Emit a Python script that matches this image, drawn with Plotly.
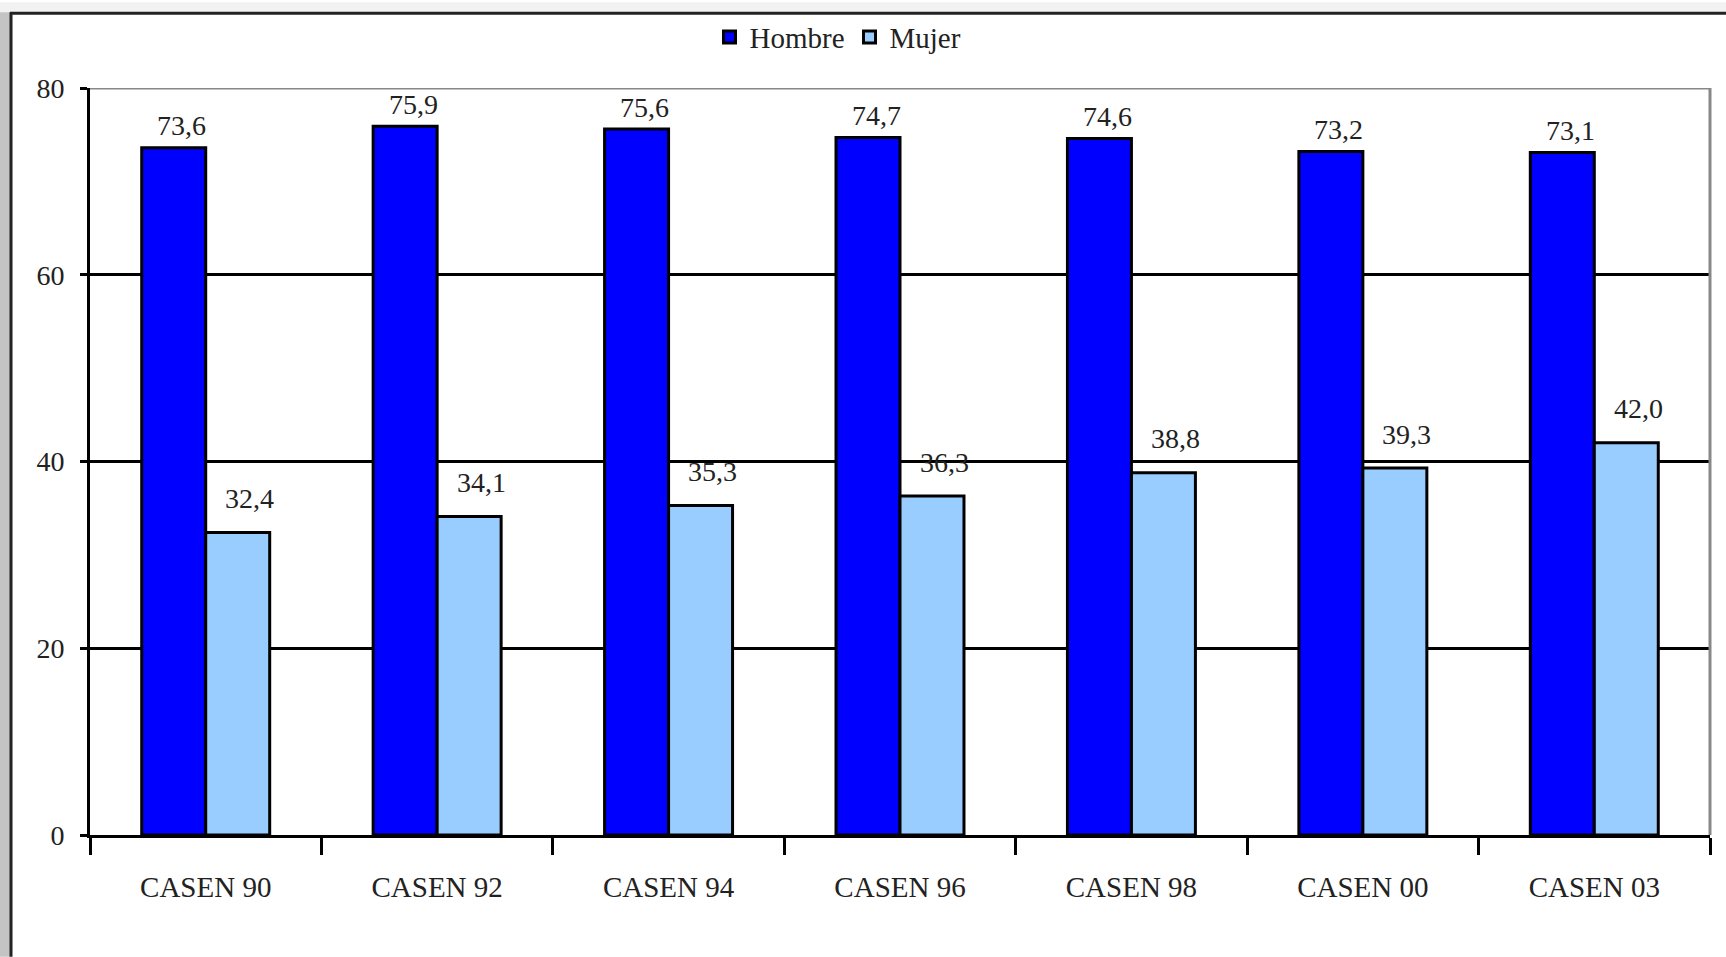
import plotly.graph_objects as go

# Encuesta CASEN: tasa por sexo (%)
categorias = ["CASEN 90", "CASEN 92", "CASEN 94", "CASEN 96", "CASEN 98", "CASEN 00", "CASEN 03"]
hombre = [73.6, 75.9, 75.6, 74.7, 74.6, 73.2, 73.1]
mujer = [32.4, 34.1, 35.3, 36.3, 38.8, 39.3, 42.0]
y_ticks = [0, 20, 40, 60, 80]

W, H = 1726, 957
L, R, T, B = 90, 16, 86, 122
FONT = "Liberation Serif"


def px_x(p):
    # screen pixel column -> paper x
    return (p - L) / (W - L - R)


def px_y(p):
    # screen pixel row -> paper y
    return (H - B - p) / (H - T - B)


def fmt(v):
    return f"{v:.1f}".replace(".", ",")


fig = go.Figure()

fig.add_trace(go.Bar(
    x=categorias, y=hombre, name="Hombre",
    marker=dict(color="#0000FF", line=dict(color="black", width=3)),
))
fig.add_trace(go.Bar(
    x=categorias, y=mujer, name="Mujer",
    marker=dict(color="#99CCFF", line=dict(color="black", width=3)),
))

# value labels (Excel style, sitting a bit to the right of each bar)
annotations = []
for cat, v in zip(categorias, hombre):
    annotations.append(dict(x=cat, y=v, text=fmt(v), showarrow=False,
                            xshift=-24, yshift=22, yanchor="middle",
                            font=dict(family=FONT, size=28, color="#222")))
for cat, v in zip(categorias, mujer):
    annotations.append(dict(x=cat, y=v, text=fmt(v), showarrow=False,
                            xshift=44, yshift=34, yanchor="middle",
                            font=dict(family=FONT, size=28, color="#222")))

shapes = [
    # window frame around the chart
    dict(type="rect", xref="paper", yref="paper", x0=px_x(0), x1=px_x(W), y0=px_y(0), y1=px_y(10),
         fillcolor="#f2f2f2", line=dict(width=0), layer="above"),
    dict(type="rect", xref="paper", yref="paper", x0=px_x(0), x1=px_x(10), y0=px_y(10), y1=px_y(H),
         fillcolor="#c4c4c4", line=dict(width=0), layer="above"),
    dict(type="line", xref="paper", yref="paper", x0=px_x(10), x1=px_x(W), y0=px_y(11), y1=px_y(11),
         line=dict(color="#222", width=3), layer="above"),
    dict(type="line", xref="paper", yref="paper", x0=px_x(11), x1=px_x(11), y0=px_y(10), y1=px_y(H),
         line=dict(color="#222", width=3), layer="above"),
    # grey plot border top / right
    dict(type="line", xref="paper", yref="y", x0=0, x1=1, y0=80, y1=80,
         line=dict(color="#888", width=3), layer="above"),
    dict(type="line", xref="paper", yref="y", x0=1, x1=1, y0=0, y1=80,
         line=dict(color="#888", width=3), layer="above"),
]

fig.update_layout(
    width=W, height=H,
    margin=dict(l=L, r=R, t=T, b=B),
    paper_bgcolor="white", plot_bgcolor="white",
    barmode="group", bargap=0.447, bargroupgap=0,
    font=dict(family=FONT, size=28, color="#222"),
    showlegend=True,
    legend=dict(orientation="h", x=px_x(838), y=px_y(35), xanchor="center", yanchor="middle",
                font=dict(family=FONT, size=29, color="#222"), bgcolor="rgba(0,0,0,0)",
                itemwidth=30, tracegroupgap=0),
    annotations=annotations,
    shapes=shapes,
)

fig.update_xaxes(
    type="category", showgrid=False,
    showline=True, linecolor="black", linewidth=3,
    ticks="outside", tickson="boundaries", ticklen=17, tickwidth=3, tickcolor="black",
    tickfont=dict(family=FONT, size=29, color="#222"), ticklabelstandoff=24,
)
fig.update_yaxes(
    range=[0, 80], tickvals=y_ticks, ticktext=[str(t) for t in y_ticks],
    showgrid=True, gridcolor="black", gridwidth=3,
    showline=True, linecolor="black", linewidth=3,
    ticks="outside", ticklen=7, tickwidth=3, tickcolor="black",
    tickfont=dict(family=FONT, size=28, color="#222"), ticklabelstandoff=10,
    zeroline=False,
)

# drop the default page margin so the chart sits at the window origin
fig.write_html("out.html", config={"displayModeBar": False},
               post_script="document.body.style.margin='0';document.body.style.overflow='hidden';")
